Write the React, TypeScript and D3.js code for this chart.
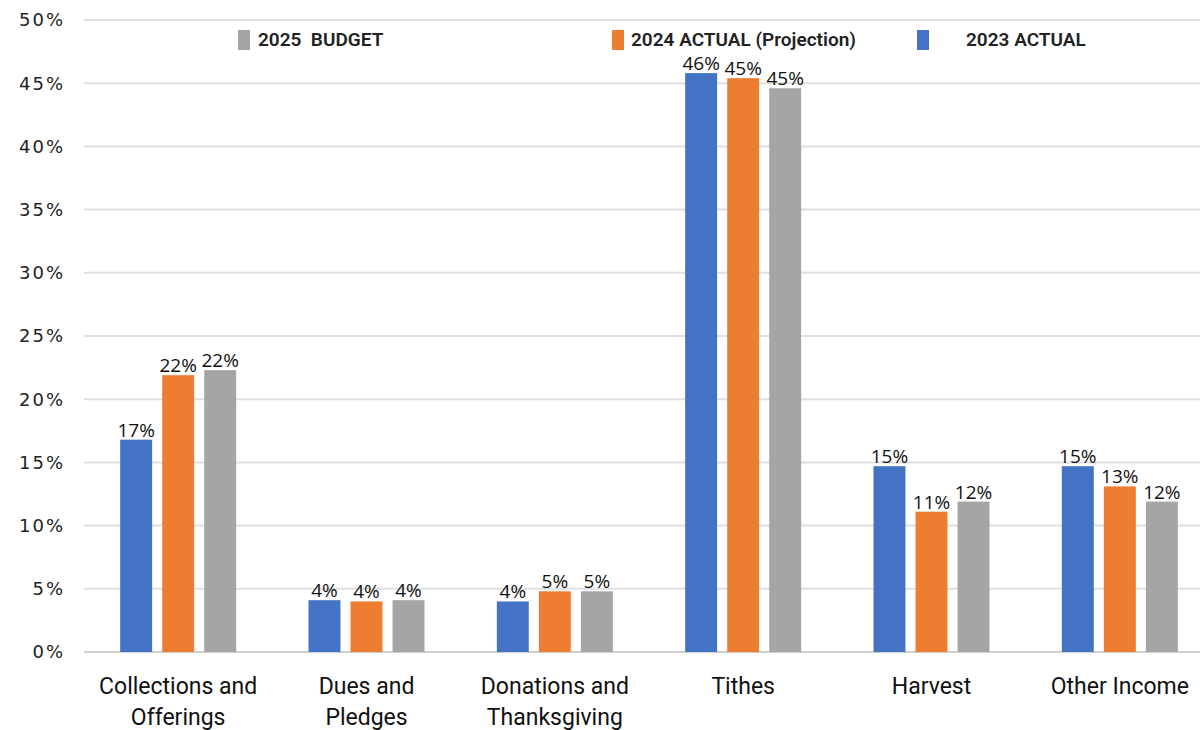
import React from 'react'
import { scaleBand, scaleLinear } from 'd3'

const categories = [
    ['Collections and', 'Offerings'],
    ['Dues and', 'Pledges'],
    ['Donations and', 'Thanksgiving'],
    ['Tithes'],
    ['Harvest'],
    ['Other Income']
]

const series = ['2023 ACTUAL', '2024 ACTUAL (Projection)', '2025  BUDGET']
const colors = ['#4472c4', '#ed7d31', '#a5a5a5']

const actual2023 = [16.8, 4.1, 4.0, 45.8, 14.7, 14.7]
const actual2024 = [21.9, 4.0, 4.8, 45.4, 11.1, 13.1]
const budget2025 = [22.3, 4.1, 4.8, 44.6, 11.9, 11.9]
const values = [actual2023, actual2024, budget2025]

const yTicks = [0, 5, 10, 15, 20, 25, 30, 35, 40, 45, 50]

// legend is drawn right to left in the original: budget, projection, actual
const legendOrder = [2, 1, 0]

const W = 1200
const H = 730

export default function App() {
    const catKeys = categories.map(c => c.join(' '))
    const x0 = scaleBand().domain(catKeys).range([84, 1214])
    const x1 = scaleBand().domain(series).range([-58, 58]).paddingInner(0.24)
    const y = scaleLinear().domain([0, 50]).range([652, 20])

    const legendX = [238, 612, 917]
    const legendTextGap = [20, 19, 49]

    return (
        <svg width={W} height={H} style={{ position: 'absolute', left: 0, top: 0, background: '#fff' }}>
            {yTicks.map(t => (
                <g key={t}>
                    <line x1={84} x2={W} y1={y(t)} y2={y(t)} stroke={t === 0 ? '#d0d0d0' : '#e0e0e0'} strokeWidth={2} />
                    <text x={65} y={y(t)} dy="0.35em" textAnchor="end" fontFamily="DejaVu Sans" fontSize={18} letterSpacing={2} fill="#222">{t}%</text>
                </g>
            ))}

            {catKeys.map((c, ci) => (
                <g key={c} transform={`translate(${x0(c) + x0.bandwidth() / 2},0)`}>
                    {series.map((s, si) => {
                        const v = values[si][ci]
                        const bx = x1(s)
                        return (
                            <g key={s}>
                                <rect x={bx} y={y(v)} width={x1.bandwidth()} height={y(0) - y(v)} fill={colors[si]} />
                                <text x={bx + x1.bandwidth() / 2} y={y(v) - 3} textAnchor="middle" fontFamily="Open Sans" fontSize={19} fill="#111">
                                    {Math.round(v)}%
                                </text>
                            </g>
                        )
                    })}
                    {categories[ci].map((line, li) => (
                        <text key={li} x={0} y={694 + li * 31} textAnchor="middle" fontFamily="Roboto" fontSize={23} fill="#111">{line}</text>
                    ))}
                </g>
            ))}

            {legendOrder.map((si, i) => (
                <g key={si} transform={`translate(${legendX[i]},30)`}>
                    <rect x={0} y={0} width={12} height={20} fill={colors[si]} />
                    <text x={legendTextGap[i]} y={16} fontFamily="Roboto" fontWeight={600} fontSize={19} fill="#222" style={{ whiteSpace: 'pre' }}>{series[si]}</text>
                </g>
            ))}
        </svg>
    )
}
